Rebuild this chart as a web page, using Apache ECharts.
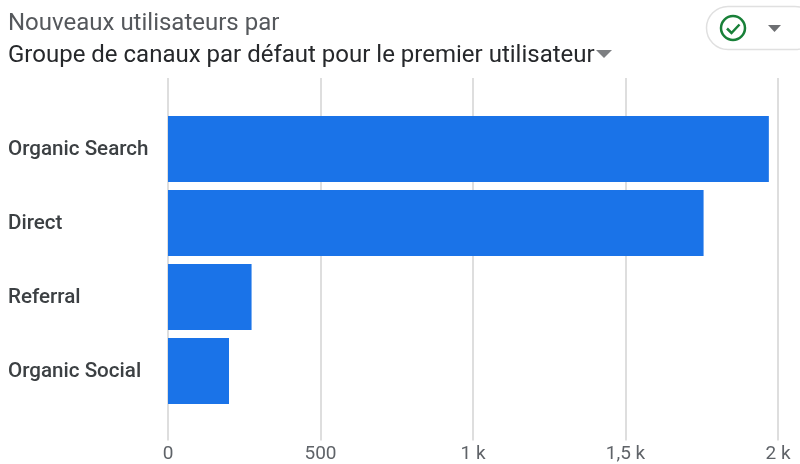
<!DOCTYPE html>
<html>
<head>
<meta charset="utf-8">
<style>
  html, body { margin: 0; padding: 0; background: #fff; }
  #chart { width: 800px; height: 464px; }
</style>
<script src="https://cdn.jsdelivr.net/npm/echarts@6/dist/echarts.min.js"></script>
</head>
<body>
<div id="chart"></div>
<script>
var categories = ['Organic Search', 'Direct', 'Referral', 'Organic Social'];
var newUsers = [1970, 1756, 274, 200];
var xTicks = { 0: '0', 500: '500', 1000: '1 k', 1500: '1,5 k', 2000: '2 k' };

var chart = echarts.init(document.getElementById('chart'));
var option = {
    animation: false,
    title: [
        { text: 'Nouveaux utilisateurs par', left: 8, top: 12, padding: 0,
          textStyle: { fontFamily: 'Roboto', fontSize: 24, fontWeight: 400, color: '#55585c' } },
        { text: 'Groupe de canaux par défaut pour le premier utilisateur', left: 8, top: 44, padding: 0,
          textStyle: { fontFamily: 'Roboto', fontSize: 24, fontWeight: 400, color: '#26282b' } }
    ],
    // the gridlines run well past the bars, so they get their own grid
    grid: [
        { left: 168, right: 22, top: 78, bottom: 21 },
        { left: 168, right: 22, top: 112, bottom: 56 }
    ],
    xAxis: [
        {
            gridIndex: 0, type: 'value', min: 0, max: 2000, interval: 500,
            axisLine: { show: false },
            axisTick: { show: false },
            splitLine: { lineStyle: { color: '#dedede', width: 2 } },
            axisLabel: {
                margin: 7, lineHeight: 14,
                fontFamily: 'Roboto', fontSize: 19, color: '#5f6368',
                formatter: function (v) { return xTicks[v]; }
            }
        },
        { gridIndex: 1, type: 'value', min: 0, max: 2000, show: false }
    ],
    yAxis: [
        { gridIndex: 0, type: 'category', data: categories, show: false },
        {
            gridIndex: 1, type: 'category', data: categories, inverse: true,
            axisLine: { show: false },
            axisTick: { length: 10, alignWithLabel: true, lineStyle: { color: '#dedede' } },
            axisLabel: {
                margin: 160, align: 'left',
                formatter: function (v) { return '{c|' + v + '}'; },
                rich: {
                    c: { padding: [2, 0, 0, 0], fontFamily: 'Roboto', fontSize: 20.6, fontWeight: 500, color: '#3c4043' }
                }
            }
        }
    ],
    series: [
        {
            name: 'Nouveaux utilisateurs',
            type: 'bar',
            xAxisIndex: 1,
            yAxisIndex: 1,
            barWidth: 66,
            data: newUsers,
            itemStyle: { color: '#1a73e8' }
        }
    ],
    graphic: [
        // filtre a droite du titre
        { type: 'rect', shape: { x: 706.5, y: 6.5, width: 110, height: 43, r: 21.5 },
          style: { fill: '#fff', stroke: '#e0e0e0', lineWidth: 1.5 } },
        { type: 'circle', shape: { cx: 733, cy: 28, r: 12 },
          style: { fill: 'none', stroke: '#188038', lineWidth: 2.5 } },
        { type: 'polyline', shape: { points: [[727, 28.5], [731.5, 33], [739.5, 24.5]] },
          style: { fill: 'none', stroke: '#188038', lineWidth: 2.5 } },
        { type: 'polygon', shape: { points: [[768, 25], [781, 25], [774.5, 32]] },
          style: { fill: '#6d6f72' } },
        { type: 'polygon', shape: { points: [[596, 50], [612, 50], [604, 58]] },
          style: { fill: '#7d7f82' } }
    ]
};
chart.setOption(option);
</script>
</body>
</html>
